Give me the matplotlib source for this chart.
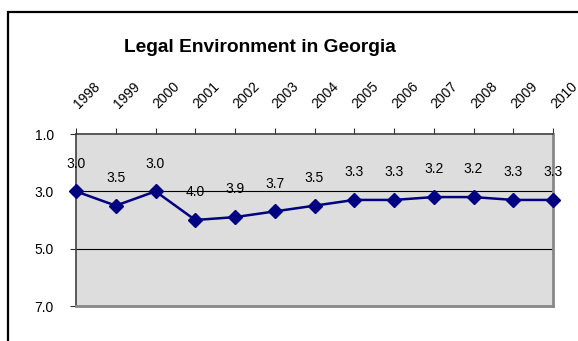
import matplotlib
matplotlib.use("Agg")
import matplotlib.pyplot as plt
from matplotlib.patches import Rectangle

years = ["1998", "1999", "2000", "2001", "2002", "2003", "2004",
         "2005", "2006", "2007", "2008", "2009", "2010"]
scores = [3.0, 3.5, 3.0, 4.0, 3.9, 3.7, 3.5, 3.3, 3.3, 3.2, 3.2, 3.3, 3.3]
yticks = [1.0, 3.0, 5.0, 7.0]
title = "Legal Environment in Georgia"

plt.rcParams['font.family'] = ['Liberation Sans', 'DejaVu Sans']

W, H = 578, 341
fig = plt.figure(figsize=(W / 100, H / 100), dpi=100)

# outer frame
frame = Rectangle((8 / W, -0.2), 1.2, (1 - 12 / H) + 0.2, transform=fig.transFigure,
                  fill=False, edgecolor='black', linewidth=1.6, clip_on=False)
fig.patches.append(frame)

left, right, top, bottom = 76, 553, 134, 306
ax = fig.add_axes([left / W, 1 - bottom / H, (right - left) / W, (bottom - top) / H])
ax.set_facecolor('#DDDDDD')

x = list(range(len(years)))
ax.plot(x, scores, color='#000080', linewidth=1.8, marker='D', markersize=7,
        markerfacecolor='#000080', markeredgecolor='#000080', zorder=5, clip_on=False)

for xi, v in zip(x, scores):
    ax.annotate(f"{v:.1f}", (xi, v), xytext=(0, 20), textcoords='offset points',
                ha='center', va='center', fontsize=10, color='black', zorder=6)

ax.set_xlim(0, len(years) - 1)
ax.set_ylim(7, 1)
ax.set_yticks(yticks)
ax.set_yticklabels([f"{t:.1f}" for t in yticks], fontsize=10)
ax.set_xticks(x)
ax.set_xticklabels(years, fontsize=10, rotation=45, ha='left', va='center',
                   rotation_mode='anchor')
ax.xaxis.set_ticks_position('top')
ax.xaxis.set_label_position('top')
ax.tick_params(axis='x', direction='out', length=4, width=0.8, color='#333333', pad=16)
ax.tick_params(axis='y', direction='out', length=4, width=0.8, color='#333333', pad=12)

for t in [3.0, 5.0]:
    ax.axhline(t, color='black', linewidth=0.8, zorder=1)

ax.spines['left'].set_color('#404040')
ax.spines['left'].set_linewidth(1.2)
ax.spines['top'].set_color('#404040')
ax.spines['top'].set_linewidth(1.2)
ax.spines['right'].set_color('#888888')
ax.spines['right'].set_linewidth(2)
ax.spines['bottom'].set_color('#888888')
ax.spines['bottom'].set_linewidth(2)

fig.text(260 / W, 1 - 47 / H, title, ha='center', va='center',
         fontsize=13.8, fontweight='bold')

fig.savefig("out.png", dpi=100)
